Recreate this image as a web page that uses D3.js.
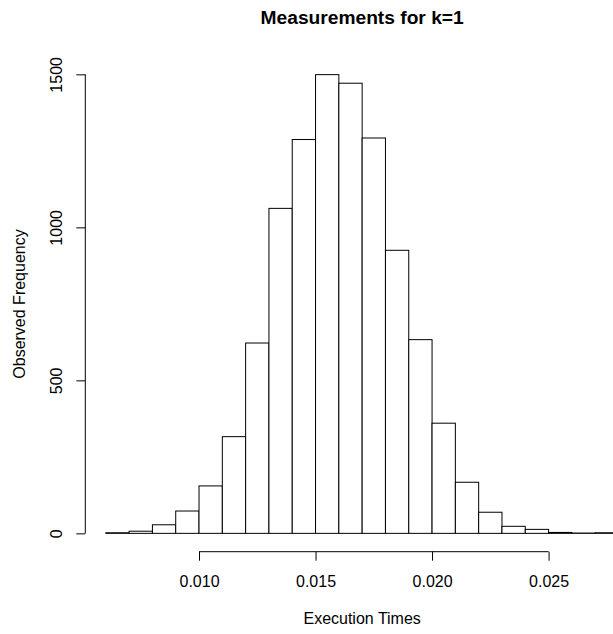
<!DOCTYPE html>
<html>
<head>
<meta charset="utf-8">
<script src="https://cdn.jsdelivr.net/npm/d3@7"></script>
<style>
  body { margin: 0; background: #fff; }
  text { font-family: "Liberation Sans", Arial, Helvetica, sans-serif; fill: #000; }
</style>
</head>
<body>
<svg id="chart" width="613" height="634"></svg>
<script>
const binEdges = [0.006, 0.007, 0.008, 0.009, 0.010, 0.011, 0.012, 0.013, 0.014, 0.015, 0.016,
  0.017, 0.018, 0.019, 0.020, 0.021, 0.022, 0.023, 0.024, 0.025, 0.026, 0.027, 0.028];
const counts = [2, 7, 28, 73, 155, 316, 622, 1062, 1287, 1499, 1471, 1292, 925, 633, 360, 167, 69, 23, 13, 3, 1, 2];
const xTicks = [0.010, 0.015, 0.020, 0.025];
const yTicks = [0, 500, 1000, 1500];

const svg = d3.select("#chart");

// R-style usr extents: data range padded by 4% each side
const xLo = binEdges[0], xHi = binEdges[binEdges.length - 1];
const xPad = (xHi - xLo) * 0.04;
const yMax = d3.max(counts);
const yPad = yMax * 0.04;

const x = d3.scaleLinear().domain([xLo - xPad, xHi + xPad]).range([85.3, 639]);
const y = d3.scaleLinear().domain([-yPad, yMax + yPad]).range([551.7, 56.3]);

const bins = counts.map((c, i) => ({ x0: binEdges[i], x1: binEdges[i + 1], count: c }));

svg.append("g")
  .selectAll("rect")
  .data(bins)
  .join("rect")
  .attr("x", d => x(d.x0))
  .attr("y", d => y(d.count))
  .attr("width", d => x(d.x1) - x(d.x0))
  .attr("height", d => y(0) - y(d.count))
  .attr("fill", "#fff")
  .attr("stroke", "#000")
  .attr("stroke-width", 1);

// x axis
const xAxis = svg.append("g")
  .attr("transform", `translate(0,${y.range()[0]})`)
  .call(d3.axisBottom(x).tickValues(xTicks).tickFormat(d3.format(".3f")).tickSize(9).tickPadding(15));
xAxis.select(".domain").remove();
xAxis.append("line")
  .attr("x1", x(xTicks[0])).attr("x2", x(xTicks[xTicks.length - 1]))
  .attr("stroke", "#000");
xAxis.selectAll(".tick text").attr("font-size", 16).attr("font-family", null).attr("fill", "#000");
xAxis.selectAll(".tick line").attr("stroke", "#000");

// y axis
const yAxis = svg.append("g")
  .attr("transform", `translate(${x.range()[0]},0)`)
  .call(d3.axisLeft(y).tickValues(yTicks).tickFormat(d3.format("d")).tickSize(9));
yAxis.select(".domain").remove();
yAxis.append("line")
  .attr("y1", y(yTicks[0])).attr("y2", y(yTicks[yTicks.length - 1]))
  .attr("stroke", "#000");
yAxis.selectAll(".tick line").attr("stroke", "#000");
yAxis.selectAll(".tick text")
  .attr("font-size", 16)
  .attr("font-family", null)
  .attr("fill", "#000")
  .attr("x", null).attr("dy", null)
  .attr("text-anchor", "middle")
  .attr("transform", "translate(-23,0) rotate(-90)");

// labels
const plotCx = (x.range()[0] + x.range()[1]) / 2;
const plotCy = (y.range()[0] + y.range()[1]) / 2;

svg.append("text")
  .attr("x", plotCx).attr("y", 24)
  .attr("text-anchor", "middle")
  .attr("font-size", 19.2)
  .attr("font-weight", "bold")
  .text("Measurements for k=1");

svg.append("text")
  .attr("x", plotCx).attr("y", 624)
  .attr("text-anchor", "middle")
  .attr("font-size", 16)
  .text("Execution Times");

svg.append("text")
  .attr("transform", `translate(25,${plotCy}) rotate(-90)`)
  .attr("text-anchor", "middle")
  .attr("font-size", 16)
  .text("Observed Frequency");
</script>
</body>
</html>
